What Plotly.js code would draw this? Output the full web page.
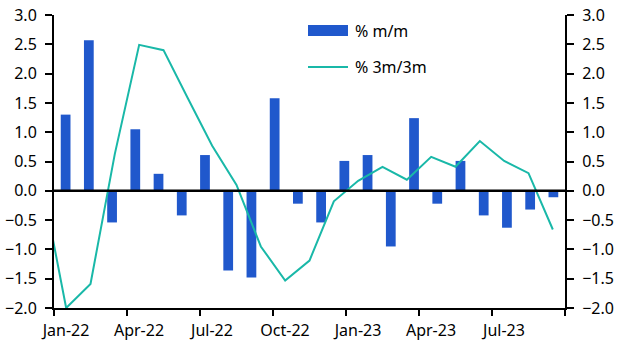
<!DOCTYPE html>
<html>
<head>
<meta charset="utf-8">
<script src="https://cdn.plot.ly/plotly-3.0.1.min.js"></script>
<style>html,body{margin:0;padding:0;background:#fff;}#chart{width:627px;height:352px;}</style>
</head>
<body>
<div id="chart"></div>
<script>
// Bars: % m/m, Jan-22 .. Oct-23
const barMonths = ["Jan-22","Feb-22","Mar-22","Apr-22","May-22","Jun-22","Jul-22","Aug-22","Sep-22","Oct-22","Nov-22","Dec-22",
  "Jan-23","Feb-23","Mar-23","Apr-23","May-23","Jun-23","Jul-23","Aug-23","Sep-23","Oct-23"];
const momValues = [1.30, 2.57, -0.54, 1.05, 0.29, -0.42, 0.61, -1.36, -1.48, 1.58, -0.22, -0.54,
  0.51, 0.61, -0.95, 1.24, -0.22, 0.51, -0.42, -0.63, -0.32, -0.11];
// Line: % 3m/3m, Dec-21 .. Sep-23 (Dec-21 falls just outside the plot and is clipped)
const lineMonths = ["Dec-21","Jan-22","Feb-22","Mar-22","Apr-22","May-22","Jun-22","Jul-22","Aug-22","Sep-22","Oct-22","Nov-22","Dec-22",
  "Jan-23","Feb-23","Mar-23","Apr-23","May-23","Jun-23","Jul-23","Aug-23","Sep-23"];
const threeMValues = [0.15, -2.0, -1.59, 0.63, 2.49, 2.40, 1.58, 0.77, 0.10, -0.95, -1.53, -1.19, -0.18,
  0.17, 0.41, 0.19, 0.58, 0.41, 0.85, 0.51, 0.30, -0.66];
// Axis tick labels (every third month on the line axis)
const tickLabels = ["Jan-22","Apr-22","Jul-22","Oct-22","Jan-23","Apr-23","Jul-23",""];
const seriesNames = ["% m/m", "% 3m/3m"];
const barColor = "#2058CC", lineColor = "#19B8A8";

const barX = barMonths.map((m,i)=>i);
const lineX = lineMonths.map((m,i)=>i-1);      // Jan-22 = 0
const tickVals = tickLabels.map((t,i)=>i*3-0.5);

const font = {family:"Noto Sans, Open Sans, sans-serif", size:16, color:"#000"};

const traces = [
  {type:"bar", x:barX, y:momValues, name:seriesNames[0], xaxis:"x", yaxis:"y",
   marker:{color:barColor}, width:0.42},
  {type:"scatter", mode:"lines", x:lineX, y:threeMValues, name:seriesNames[1], xaxis:"x2", yaxis:"y2",
   line:{color:lineColor, width:2}}
];

const yCommon = {range:[-2,3], dtick:0.5, tick0:0, tickformat:".1f", showgrid:false,
  showline:true, linecolor:"#000", linewidth:2, ticks:"outside", ticklen:7, tickwidth:2, tickcolor:"#000",
  tickfont:font, zeroline:false, fixedrange:true};

const layout = {
  width:627, height:352,
  margin:{l:54, r:62, t:15, b:44},
  paper_bgcolor:"#fff", plot_bgcolor:"#fff",
  font:font,
  showlegend:false,
  xaxis:{range:[-0.5,21.5], showgrid:false, zeroline:false, showline:false, showticklabels:false, ticks:""},
  xaxis2:{range:[-0.5,20.5], overlaying:"x", side:"bottom", anchor:"y2",
    tickmode:"array", tickvals:tickVals, ticktext:tickLabels, ticklabelshift:12,
    showgrid:false, zeroline:false, showline:true, linecolor:"#000", linewidth:2,
    ticks:"outside", ticklen:6, tickwidth:2, tickcolor:"#000", tickfont:font, ticklabelstandoff:1},
  yaxis:Object.assign({}, yCommon, {side:"left", ticklabelstandoff:5}),
  yaxis2:Object.assign({}, yCommon, {side:"right", overlaying:"y", anchor:"x2", ticklabelstandoff:5}),
  shapes:[
    {type:"line", xref:"paper", x0:0, x1:1, yref:"y", y0:0, y1:0, line:{color:"#000", width:2.5}, layer:"above"},
    // legend swatches
    {type:"rect", xref:"paper", yref:"paper", x0:(308-54)/511, x1:(348-54)/511, y0:(308-36)/293, y1:(308-25)/293,
     fillcolor:barColor, line:{width:0}},
    {type:"line", xref:"paper", yref:"paper", x0:(308-54)/511, x1:(348-54)/511, y0:(308-67)/293, y1:(308-67)/293,
     line:{color:lineColor, width:2}}
  ],
  annotations:[
    {xref:"paper", yref:"paper", x:(353-54)/511, y:(308-31)/293, xanchor:"left", yanchor:"middle",
     text:seriesNames[0], showarrow:false, font:font},
    {xref:"paper", yref:"paper", x:(353-54)/511, y:(308-67)/293, xanchor:"left", yanchor:"middle",
     text:seriesNames[1], showarrow:false, font:font}
  ]
};

Plotly.newPlot("chart", traces, layout, {displayModeBar:false, staticPlot:true});
</script>
</body>
</html>
